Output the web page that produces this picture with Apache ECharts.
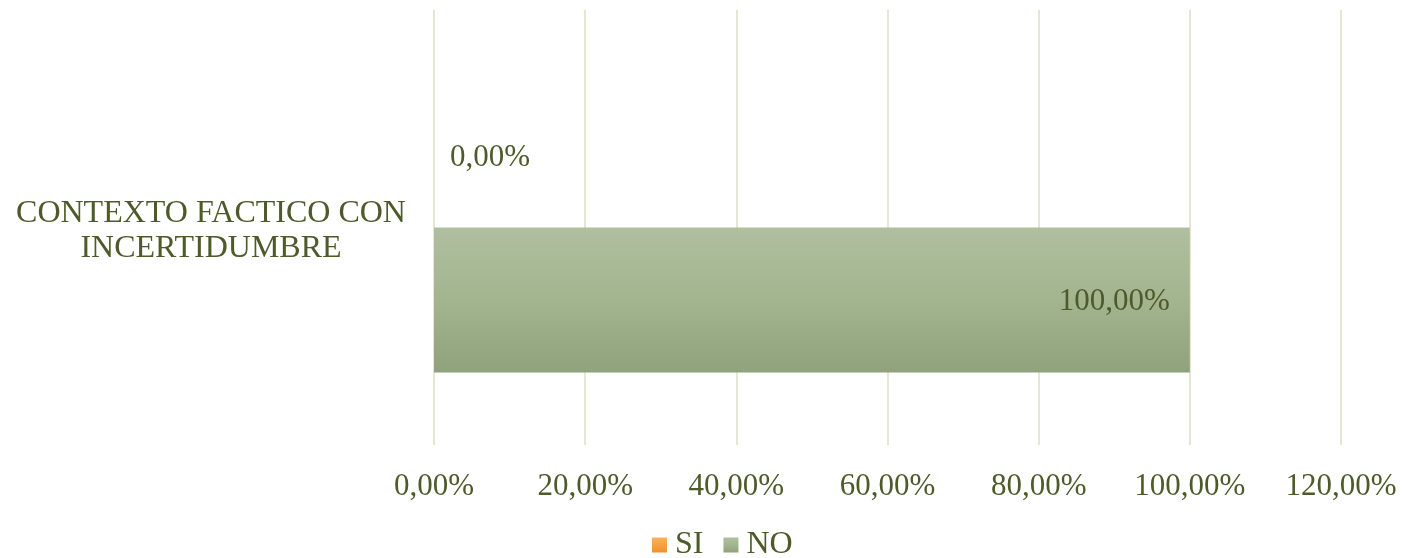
<!DOCTYPE html>
<html>
<head>
<meta charset="utf-8">
<script src="https://cdn.jsdelivr.net/npm/echarts@6/dist/echarts.min.js"></script>
<style>
html,body{margin:0;padding:0;background:#fff;}
#chart{width:1403px;height:558px;}
</style>
</head>
<body>
<div id="chart"></div>
<script>
const categories = ['CONTEXTO FACTICO CON\nINCERTIDUMBRE'];
const seriesNames = ['SI', 'NO'];
const siValues = [0];
const noValues = [100];
const axisMax = 120;
const axisInterval = 20;

const textColor = '#4e5a2a';
const font = '"Liberation Serif", "Times New Roman", serif';
const fmt = v => v.toFixed(2).replace('.', ',') + '%';

const chart = echarts.init(document.getElementById('chart'), null, {renderer: 'canvas'});
chart.setOption({
  animation: false,
  textStyle: {fontFamily: font},
  grid: {left: 434, right: 62, top: 10, bottom: 113, containLabel: false},
  xAxis: {
    type: 'value', min: 0, max: axisMax, interval: axisInterval,
    axisLine: {show: false}, axisTick: {show: false},
    splitLine: {show: true, lineStyle: {color: '#e5e6d6', width: 2}},
    axisLabel: {formatter: fmt, color: textColor, fontSize: 31, fontFamily: font, margin: 26}
  },
  yAxis: {
    type: 'category', data: categories,
    axisLine: {show: false}, axisTick: {show: false},
    axisLabel: {
      color: textColor, fontSize: 32, fontFamily: font, align: 'center', margin: 223,
      formatter: v => v.split('\n').map(s => '{a|' + s + '}').join('\n'),
      rich: {a: {color: textColor, fontSize: 32, fontFamily: font, lineHeight: 35, padding: [7, 0, 0, 0]}}
    }
  },
  legend: {
    top: 524, left: 647, itemWidth: 15, itemHeight: 15, itemGap: 20,
    icon: 'rect',
    textStyle: {color: textColor, fontSize: 32, fontFamily: font, padding: [0, 0, 0, 3]},
    data: seriesNames
  },
  series: [
    {
      name: seriesNames[0], type: 'bar', data: siValues,
      barGap: '0%', barCategoryGap: '33.33%',
      itemStyle: {color: new echarts.graphic.LinearGradient(0, 0, 0, 1, [{offset: 0, color: '#f9b35c'}, {offset: 1, color: '#ef902c'}])},
      label: {show: true, position: 'right', distance: 16, offset: [0, 3], formatter: p => fmt(p.value), color: textColor, fontSize: 31, fontFamily: font}
    },
    {
      name: seriesNames[1], type: 'bar', data: noValues,
      barGap: '0%', barCategoryGap: '33.33%',
      itemStyle: {color: new echarts.graphic.LinearGradient(0, 0, 0, 1, [{offset: 0, color: '#afbf9f'}, {offset: 0.5, color: '#a3b58f'}, {offset: 1, color: '#8fa27b'}])},
      label: {show: true, position: 'insideRight', distance: 20, offset: [0, 2], formatter: p => fmt(p.value), color: textColor, fontSize: 31, fontFamily: font}
    }
  ]
});
</script>
</body>
</html>
